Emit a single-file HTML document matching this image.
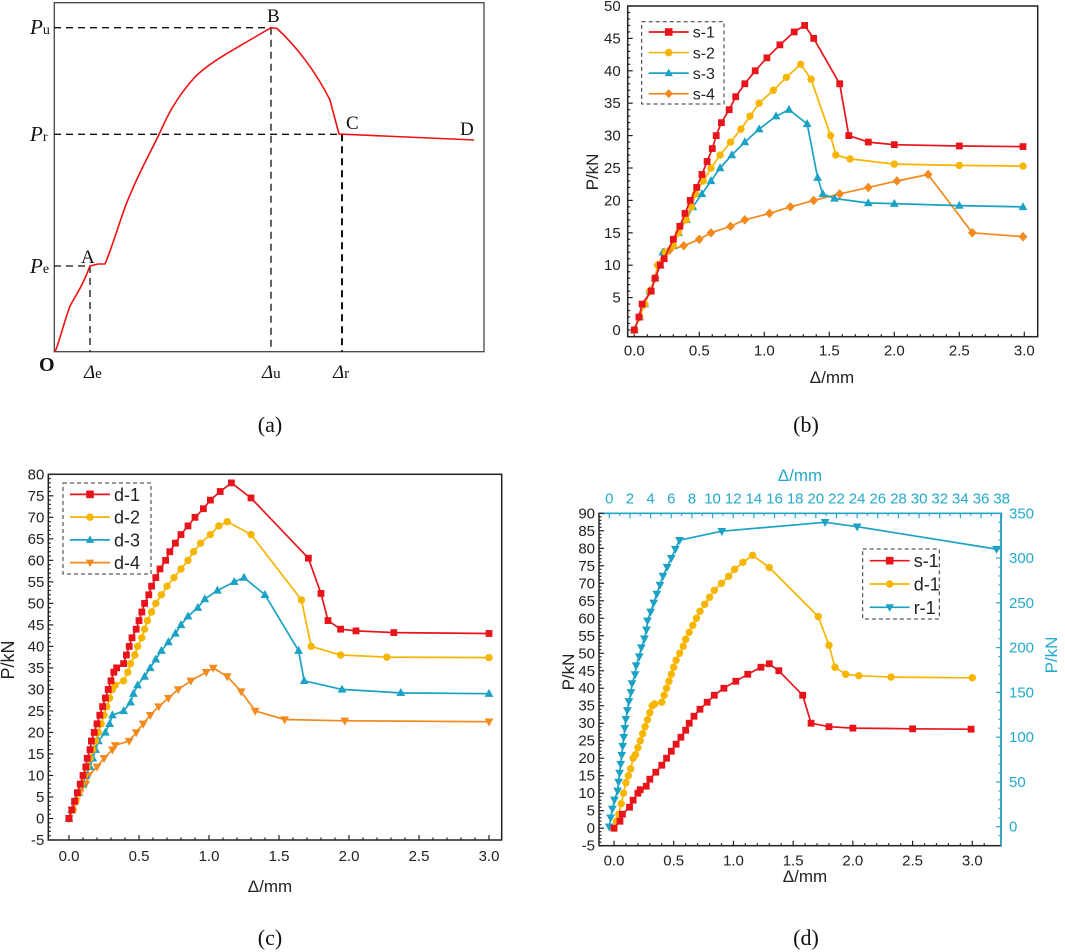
<!DOCTYPE html>
<html><head><meta charset="utf-8"><style>
html,body{margin:0;padding:0;background:#fff;width:1065px;height:952px;overflow:hidden}
svg{position:absolute;left:0;top:0}
text{font-family:"Liberation Sans",Arial,sans-serif}
.serif text,text.serif{font-family:"Liberation Serif","Times New Roman",serif}
</style></head><body>
<svg id="fig" width="1065" height="952" viewBox="0 0 1065 952">
<g id="panelA">
<rect x="54.3" y="2.7" width="429.7" height="349" fill="none" stroke="#444" stroke-width="1.3"/>
<g stroke="#111" stroke-width="1.3" stroke-dasharray="7,5" fill="none">
<line x1="54" y1="27.7" x2="271" y2="27.7"/><line x1="271" y1="27.7" x2="271" y2="352"/>
<line x1="54" y1="134.3" x2="342" y2="134.3"/><line x1="342" y1="134.3" x2="342" y2="352" stroke-width="2"/>
<line x1="54" y1="266" x2="90" y2="266"/><line x1="90" y1="266" x2="90" y2="352"/>
</g>
<path d="M55,352 C60,340 64,322 70,306 C76,295 83,285 90,266 L98,264 L105,264 C115,240 122,212 130,195 C140,170 152,150 162,128 C172,105 185,88 195,77 C210,62 230,52 255,37 L271,27.7 L277,28.5 C295,45 315,70 330,100 L339,134 L474,140" fill="none" stroke="#f01010" stroke-width="1.6"/>
<g class="serif" font-size="19" fill="#111">
<text x="30" y="34"><tspan font-style="italic" font-size="21">P</tspan><tspan font-size="14">u</tspan></text>
<text x="30" y="141"><tspan font-style="italic" font-size="21">P</tspan><tspan font-size="14">r</tspan></text>
<text x="30" y="273"><tspan font-style="italic" font-size="21">P</tspan><tspan font-size="14">e</tspan></text>
<text x="39" y="371" font-weight="bold" font-size="20">O</text>
<text x="84" y="378"><tspan font-style="italic">Δ</tspan><tspan font-size="15">e</tspan></text>
<text x="262" y="378"><tspan font-style="italic">Δ</tspan><tspan font-size="15">u</tspan></text>
<text x="333" y="378"><tspan font-style="italic">Δ</tspan><tspan font-size="15">r</tspan></text>
<text x="81" y="263">A</text>
<text x="267" y="22">B</text>
<text x="346" y="129">C</text>
<text x="460" y="135">D</text>
</g>
</g>
<g class="serif" font-size="22" fill="#111" text-anchor="middle">
<text x="270" y="432">(a)</text>
<text x="806" y="432">(b)</text>
<text x="270" y="945">(c)</text>
<text x="806" y="945">(d)</text>
</g>
</svg>
<script>
// ---- data (panel b) ----
const bS1x=[0,0.036,0.06,0.13,0.16,0.2,0.23,0.3,0.35,0.39,0.43,0.48,0.52,0.56,0.6,0.63,0.67,0.73,0.78,0.85,0.93,1.02,1.12,1.23,1.31,1.38,1.58,1.65,1.8,2.0,2.5,2.99];
const bS1y=[0,2,4,6,8,10,11,14,16,18,20,22,24,26,28,30,32,34,36,38,40,42,44,46,47,45,38,30,29,28.6,28.4,28.3];
const bS2x=[0,0.04,0.08,0.12,0.16,0.18,0.24,0.3,0.34,0.4,0.44,0.47,0.53,0.59,0.66,0.74,0.82,0.89,0.96,1.07,1.17,1.28,1.36,1.51,1.55,1.66,2.0,2.5,2.99];
const bS2y=[0,2,4,6,8,10,12,13,15,17,19,21,23,25,27,29,31,33,35,37,39,41,38.7,30,27,26.4,25.6,25.4,25.3];
const bS3x=[0,0.04,0.08,0.12,0.16,0.2,0.22,0.3,0.34,0.4,0.45,0.52,0.59,0.66,0.75,0.85,0.96,1.09,1.19,1.33,1.41,1.45,1.54,1.8,2.0,2.5,2.99];
const bS3y=[0,2,4,6,8,10,12,13,15,17,19,21,23,25,27,29,31,33,34,31.8,23.5,21,20.3,19.6,19.5,19.2,19];
const bS4x=[0,0.04,0.08,0.12,0.16,0.18,0.23,0.27,0.38,0.5,0.59,0.74,0.85,1.04,1.2,1.38,1.58,1.8,2.02,2.26,2.6,2.99];
const bS4y=[0,2,4,6,8,10,12,12.3,13,14,15,16,17,18,19,20,21,22,23,24,15,14.4];
// ---- data (panel c) ----
const cD1x=[0,0.02,0.04,0.06,0.08,0.1,0.12,0.13,0.15,0.16,0.18,0.2,0.22,0.24,0.26,0.28,0.3,0.32,0.34,0.39,0.41,0.43,0.45,0.48,0.5,0.52,0.54,0.57,0.59,0.62,0.65,0.69,0.72,0.76,0.8,0.85,0.9,0.96,1.01,1.08,1.16,1.3,1.71,1.8,1.85,1.94,2.05,2.32,3.0];
const cD1y=[0,2,4,6,8,10,12,14,16,18,20,22,24,26,28,30,32,34,35,36,38,40,42,44,46,48,50,52,54,56,58,60,62,64,66,68,70,72,74,76,78,74.5,60.5,52.3,46,44,43.6,43.2,43];
const cD2x=[0,0.03,0.05,0.07,0.09,0.11,0.13,0.15,0.17,0.19,0.21,0.23,0.25,0.27,0.29,0.31,0.33,0.39,0.42,0.44,0.47,0.49,0.52,0.54,0.56,0.59,0.62,0.66,0.7,0.75,0.8,0.85,0.89,0.94,1.01,1.07,1.13,1.3,1.66,1.73,1.94,2.27,3.0];
const cD2y=[0,2,4,6,8,10,12,14,16,18,20,22,24,26,28,30,31,32,34,36,38,40,42,44,46,48,50,52,54,56,58,60,62,64,66,68,69,66,50.8,40,38,37.5,37.4];
const cD3x=[0,0.02,0.04,0.07,0.1,0.12,0.15,0.17,0.19,0.21,0.26,0.29,0.31,0.39,0.44,0.46,0.49,0.54,0.58,0.62,0.66,0.71,0.76,0.8,0.85,0.92,0.97,1.06,1.18,1.25,1.4,1.64,1.68,1.95,2.37,3.0];
const cD3y=[0,2,4,6,8,10,12,14,16,18,20,22,24,25,27,29,31,33,35,37,39,41,43,45,47,49,51,53,55,56,52,39,32,30,29.2,29];
const cD4x=[0,0.02,0.05,0.08,0.12,0.14,0.2,0.25,0.31,0.33,0.43,0.48,0.53,0.58,0.64,0.71,0.78,0.87,0.98,1.03,1.13,1.23,1.33,1.54,1.97,3.0];
const cD4y=[0,2,4,6,8,10,12,14,16,17,18,20,22,24,26,28,30,32,34,35,33,29.5,25,23,22.7,22.5];
// ---- data (panel d) ----
const dS1x=[0,0.05,0.07,0.13,0.16,0.2,0.22,0.27,0.3,0.35,0.4,0.44,0.48,0.52,0.56,0.6,0.63,0.67,0.72,0.78,0.84,0.92,1.02,1.12,1.23,1.3,1.38,1.58,1.65,1.8,2.0,2.5,2.99];
const dS1y=[0,2,4,6,8,10,11,12,14,16,18,20,22,24,26,28,30,32,34,36,38,40,42,44,46,47,45,38,30,29,28.6,28.4,28.3];
const dD1x=[0,0.02,0.04,0.06,0.08,0.1,0.12,0.14,0.16,0.18,0.2,0.22,0.24,0.26,0.28,0.3,0.32,0.34,0.4,0.42,0.44,0.46,0.48,0.5,0.52,0.55,0.58,0.6,0.63,0.66,0.69,0.72,0.76,0.8,0.84,0.9,0.96,1.01,1.08,1.16,1.3,1.71,1.8,1.85,1.94,2.05,2.32,3.0];
const dD1y=[0,2,4,7,10,13,15,17,20,21,23,25,27,29,31,33,35,35.5,36,38,40,42,44,46,48,50,52,54,56,58,60,62,64,66,68,70,72,74,76,78,74.5,60.5,52.3,46,44,43.6,43.2,43];
const dR1x=[0,0.13,0.3,0.5,0.8,0.9,1,1.1,1.2,1.3,1.4,1.5,1.6,1.75,1.9,2.1,2.2,2.5,2.6,2.9,3.1,3.4,3.6,3.7,4.0,4.3,4.6,4.9,5.2,5.6,6.0,6.4,6.8,10.9,20.9,24.0,37.5];
const dR1y=[0,10,20,30,40,50,60,70,80,90,100,110,120,130,140,150,160,170,180,190,200,210,220,230,240,250,260,270,280,290,300,310,320,330,340,335,310];
// ticks
const bXTicks=["0.0","0.5","1.0","1.5","2.0","2.5","3.0"];
const bYTicks=[0,5,10,15,20,25,30,35,40,45,50];
const cYTicks=[-5,0,5,10,15,20,25,30,35,40,45,50,55,60,65,70,75,80];
const dYTicks=[-5,0,5,10,15,20,25,30,35,40,45,50,55,60,65,70,75,80,85,90];
const dTopTicks=[0,2,4,6,8,10,12,14,16,18,20,22,24,26,28,30,32,34,36,38];
const dRightTicks=[0,50,100,150,200,250,300,350];

const NS="http://www.w3.org/2000/svg";
const svg=document.getElementById('fig');
function mk(tag,attrs,parent){const e=document.createElementNS(NS,tag);for(const k in attrs)e.setAttribute(k,attrs[k]);(parent||svg).appendChild(e);return e;}
const RED="#e8141c",YEL="#f7b500",TEAL="#1ba2c4",ORA="#f28a1e",CYAN="#22aacb";
const MS=4;

function linear(d0,d1,r0,r1){return v=>r0+(v-d0)/(d1-d0)*(r1-r0);}

function marker(g,shape,x,y,col,s){
  let e;
  if(shape==='sq'){e=mk('rect',{x:x-s,y:y-s,width:2*s,height:2*s,fill:col},g);}
  else if(shape==='ci'){e=mk('circle',{cx:x,cy:y,r:s,fill:col},g);}
  else if(shape==='tu'){e=mk('polygon',{points:`${x},${y-s*1.2} ${x-s*1.1},${y+s*0.8} ${x+s*1.1},${y+s*0.8}`,fill:col},g);}
  else if(shape==='td'){e=mk('polygon',{points:`${x},${y+s*1.2} ${x-s*1.1},${y-s*0.8} ${x+s*1.1},${y-s*0.8}`,fill:col},g);}
  else {e=mk('polygon',{points:`${x},${y-s*1.2} ${x+s*1.1},${y} ${x},${y+s*1.2} ${x-s*1.1},${y}`,fill:col},g);}
  
  
}

function series(name,xs,ys,sx,sy,col,shape,s){
  const g=mk('g',{});
  
  
  const pts=xs.map((v,i)=>sx(v).toFixed(1)+','+sy(ys[i]).toFixed(1)).join(' ');
  const pl=mk('polyline',{points:pts,fill:'none',stroke:col,'stroke-width':1.7,'stroke-linejoin':'round'},g);
  
  
  xs.forEach((v,i)=>marker(g,shape,sx(v),sy(ys[i]),col,s));
}

function frame(name,L,T,R,B){
  const r=mk('rect',{x:L,y:T,width:R-L,height:B-T,fill:'none',stroke:'#222','stroke-width':1.5});
  
  
}
function tickLine(x1,y1,x2,y2,col,w){return mk('line',{x1,y1,x2,y2,stroke:col||'#222','stroke-width':w||1.2});}
function txt(s,x,y,o){const t=mk('text',Object.assign({x,y,'font-size':15,fill:'#222'},o||{}));t.textContent=s;return t;}

function legend(name,x0,y0,w,h,items,fs){
  const g=mk('g',{});
  
  
  mk('rect',{x:x0,y:y0,width:w,height:h,fill:'#fff',stroke:'#333','stroke-width':1,'stroke-dasharray':'4,3'},g);
  const step=h/items.length;
  items.forEach((it,i)=>{
    const cy=y0+step*(i+0.5);
    const e=mk('g',{},g);
    
    
    mk('line',{x1:x0+7,y1:cy,x2:x0+47,y2:cy,stroke:it[1],'stroke-width':1.7},e);
    marker(e,it[2],x0+27,cy,it[1],3.8);
    const t=mk('text',{x:x0+51,y:cy+fs*0.36,'font-size':fs,fill:'#222'},e);
    t.textContent=it[0];
  });
}

// ===== Panel b =====
(function(){
  const L=627.7,R=1037.7,T=6,B=336.7;
  const sx=linear(0,3,634.3,1024.3), sy=linear(0,50,330,6);
  frame('panel-b-frame',L,T,R,B);
  for(let v=0;v<=3.0001;v+=0.1){const x=sx(v);const major=Math.abs(v*2-Math.round(v*2))<1e-6;tickLine(x,B,x,B-(major?5:2.5));}
  bXTicks.forEach(s=>{const t=txt(s,sx(+s),B+19,{'text-anchor':'middle'});});
  for(let v=0;v<=50;v+=1){const y=sy(v);tickLine(L,y,L+(v%5===0?5:2.5),y);}
  bYTicks.forEach(v=>{const t=txt(String(v),L-7,sy(v)+5,{'text-anchor':'end'});});
  let t=txt('Δ/mm',832,383,{'text-anchor':'middle','font-size':17});
  t=txt('P/kN',0,0,{'text-anchor':'middle','font-size':17,transform:'translate(598,172) rotate(-90)'});
  series('series-s-4',bS4x,bS4y,sx,sy,ORA,'di',MS);
  series('series-s-3',bS3x,bS3y,sx,sy,TEAL,'tu',MS);
  series('series-s-2',bS2x,bS2y,sx,sy,YEL,'ci',MS-0.3);
  series('series-s-1',bS1x,bS1y,sx,sy,RED,'sq',MS-0.6);
  legend('legend-b',641.7,21.7,82.3,82.3,[['s-1',RED,'sq'],['s-2',YEL,'ci'],['s-3',TEAL,'tu'],['s-4',ORA,'di']],16);
})();

// ===== Panel c =====
(function(){
  const L=48.3,R=501.7,T=474.3,B=840;
  const sx=linear(0,3,69,489), sy=linear(-5,80,840,474.3);
  frame('panel-c-frame',L,T,R,B);
  for(let v=0;v<=3.0001;v+=0.1){const x=sx(v);const major=Math.abs(v*2-Math.round(v*2))<1e-6;tickLine(x,B,x,B-(major?5:2.5));}
  bXTicks.forEach(s=>{const t=txt(s,sx(+s),B+21,{'text-anchor':'middle'});});
  for(let v=-5;v<=80;v+=1){const y=sy(v);tickLine(L,y,L+(v%5===0?5:2.5),y);}
  cYTicks.forEach(v=>{const t=txt(String(v),L-4,sy(v)+5,{'text-anchor':'end'});});
  let t=txt('Δ/mm',270,892,{'text-anchor':'middle','font-size':17});
  t=txt('P/kN',0,0,{'text-anchor':'middle','font-size':18,transform:'translate(14,660) rotate(-90)'});
  series('series-d-4',cD4x,cD4y,sx,sy,ORA,'td',MS);
  series('series-d-3',cD3x,cD3y,sx,sy,TEAL,'tu',MS);
  series('series-d-2',cD2x,cD2y,sx,sy,YEL,'ci',MS-0.3);
  series('series-d-1',cD1x,cD1y,sx,sy,RED,'sq',MS-0.6);
  legend('legend-c',63,483,88,91,[['d-1',RED,'sq'],['d-2',YEL,'ci'],['d-3',TEAL,'tu'],['d-4',ORA,'td']],18);
})();

// ===== Panel d =====
(function(){
  const L=599,R=1001,T=513.3,B=845.7;
  const sx=linear(0,3,614,972.3), sy=linear(-5,90,845.7,513.3);
  const tx=linear(0,38,609.3,1001.7), ry=linear(0,350,826.7,513.3);
  frame('panel-d-frame',L,T,R,B);
  tickLine(L,T,R,T,CYAN,1.6);tickLine(R,T,R,B,CYAN,1.6);
  for(let v=0;v<=3.2;v+=0.1){const x=sx(v);if(x>R)break;const major=Math.abs(v*2-Math.round(v*2))<1e-6;tickLine(x,B,x,B-(major?5:2.5));}
  bXTicks.forEach(s=>{const t=txt(s,sx(+s),B+20,{'text-anchor':'middle'});});
  for(let v=-5;v<=90;v+=1){const y=sy(v);tickLine(L,y,L+(v%5===0?5:2.5),y);}
  dYTicks.forEach(v=>{const t=txt(String(v),L-4,sy(v)+5,{'text-anchor':'end'});});
  for(let v=0;v<=38;v+=1){const x=tx(v);tickLine(x,T,x,T+(v%2===0?5:2.5),CYAN);}
  dTopTicks.forEach(v=>{const t=txt(String(v),tx(v),T-10,{'text-anchor':'middle',fill:CYAN});});
  for(let v=-10;v<=350;v+=10){const y=ry(v);if(y>B)continue;tickLine(R,y,R-(v%50===0?5:2.5),y,CYAN);}
  dRightTicks.forEach(v=>{const t=txt(String(v),R+8,ry(v)+5,{fill:CYAN});});
  let t=txt('Δ/mm',805,882,{'text-anchor':'middle','font-size':17});
  t=txt('Δ/mm',800,481,{'text-anchor':'middle','font-size':17,fill:CYAN});
  t=txt('P/kN',0,0,{'text-anchor':'middle','font-size':17,transform:'translate(574,672) rotate(-90)'});
  t=txt('P/kN',0,0,{'text-anchor':'middle','font-size':17,fill:CYAN,transform:'translate(1057,655) rotate(-90)'});
  series('series-r-1',dR1x,dR1y,tx,ry,TEAL,'td',MS);
  series('series-d-1',dD1x,dD1y,sx,sy,YEL,'ci',MS-0.3);
  series('series-s-1',dS1x,dS1y,sx,sy,RED,'sq',MS-0.6);
  legend('legend-d',862.7,549,76.6,70,[['s-1',RED,'sq'],['d-1',YEL,'ci'],['r-1',TEAL,'td']],18);
})();
</script>
</body></html>
